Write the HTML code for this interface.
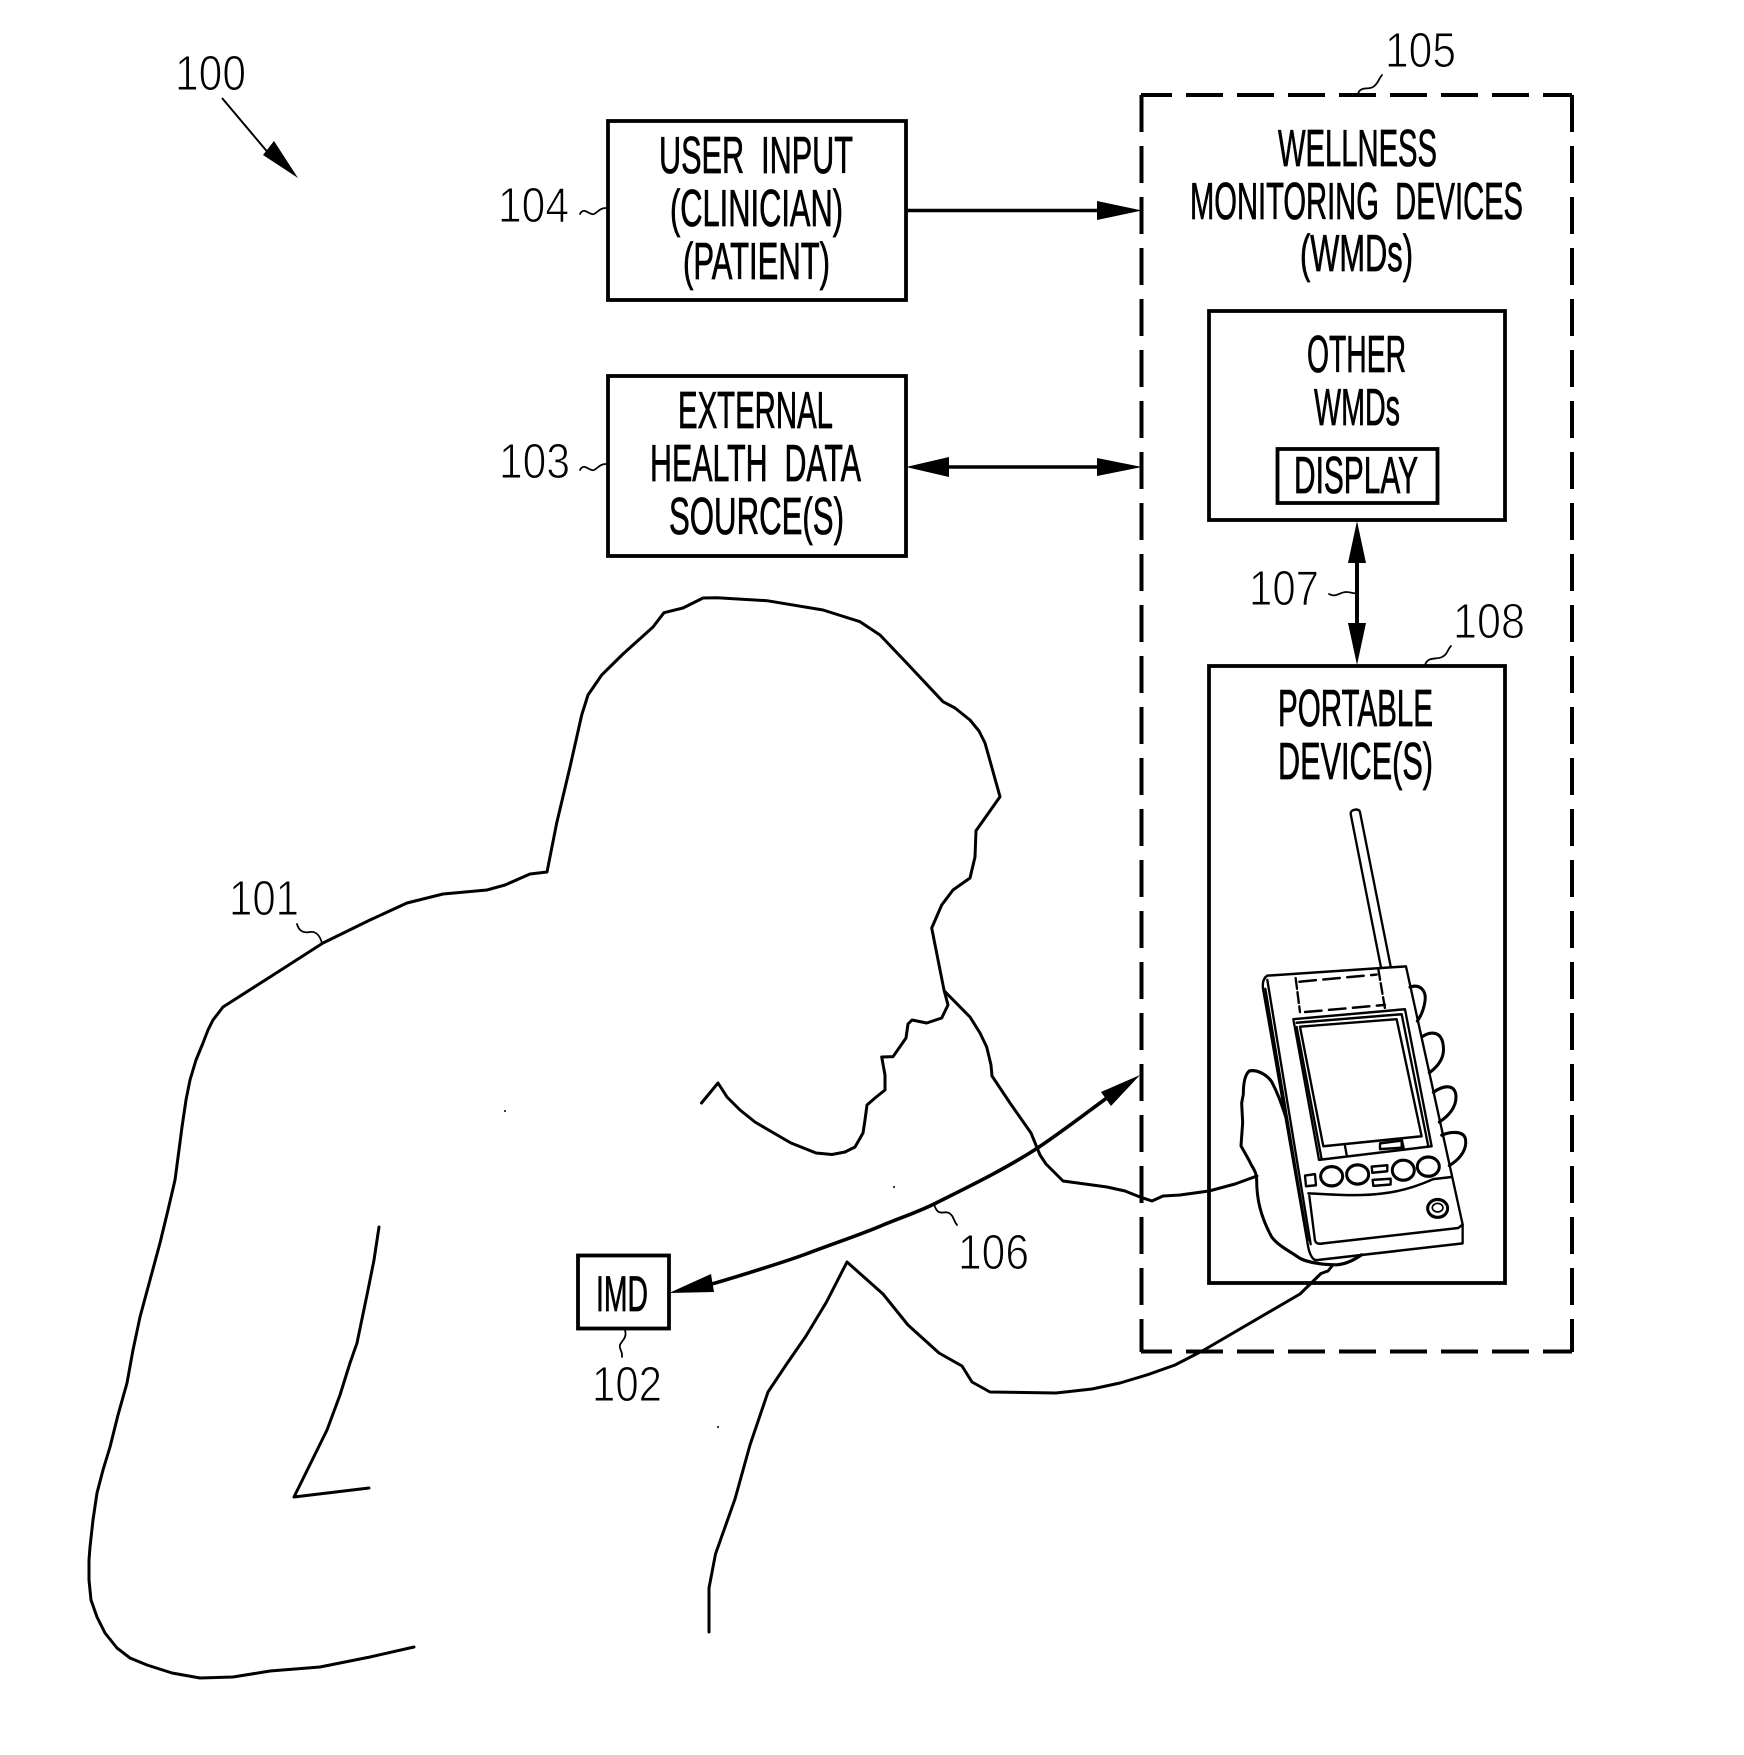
<!DOCTYPE html>
<html><head><meta charset="utf-8"><style>
html,body{margin:0;padding:0;background:#fff;width:1744px;height:1755px;overflow:hidden}
svg{display:block}
text{font-family:"Liberation Sans",sans-serif;fill:#000}
.m{font-size:52px;stroke:#000;stroke-width:.8px}
.n{font-size:49px;stroke:#fff;stroke-width:1.1px;paint-order:fill}
.b{fill:#fff;stroke:#000;stroke-width:3.8}
.l{fill:none;stroke:#000;stroke-width:3;stroke-linejoin:round;stroke-linecap:round}
.s{fill:none;stroke:#000;stroke-width:1.8;stroke-linecap:round}
.d{fill:none;stroke:#000;stroke-width:4;stroke-dasharray:37 14}
</style></head><body>
<svg width="1744" height="1755" viewBox="0 0 1744 1755" xmlns="http://www.w3.org/2000/svg">
<rect width="1744" height="1755" fill="#fff"/>

<!-- dashed box -->
<path class="d" d="M1141 95H1572" stroke-dashoffset="6"/>
<path class="d" d="M1141 1351.5H1572" stroke-dashoffset="6"/>
<path class="d" d="M1141.5 95V1352"/>
<path class="d" d="M1572 95V1352"/>

<!-- boxes -->
<rect class="b" x="608" y="121" width="298" height="179"/>
<rect class="b" x="608" y="376" width="298" height="180"/>
<rect class="b" x="1209" y="311" width="296" height="209"/>
<rect class="b" x="1277.5" y="449" width="160" height="54"/>
<rect class="b" x="1209" y="666" width="296" height="617"/>
<rect class="b" x="578" y="1255.5" width="91" height="73"/>

<!-- box text -->
<text class="m" x="659" y="173" textLength="194" lengthAdjust="spacingAndGlyphs">USER&#160;&#160;INPUT</text>
<text class="m" x="670" y="226" textLength="173" lengthAdjust="spacingAndGlyphs">(CLINICIAN)</text>
<text class="m" x="683" y="279" textLength="147" lengthAdjust="spacingAndGlyphs">(PATIENT)</text>
<text class="m" x="678" y="428" textLength="155" lengthAdjust="spacingAndGlyphs">EXTERNAL</text>
<text class="m" x="650" y="481" textLength="211" lengthAdjust="spacingAndGlyphs">HEALTH&#160;&#160;DATA</text>
<text class="m" x="669" y="534" textLength="175" lengthAdjust="spacingAndGlyphs">SOURCE(S)</text>
<text class="m" x="1278" y="166" textLength="159" lengthAdjust="spacingAndGlyphs">WELLNESS</text>
<text class="m" x="1190" y="219" textLength="333" lengthAdjust="spacingAndGlyphs">MONITORING&#160;&#160;DEVICES</text>
<text class="m" x="1300" y="271" textLength="113" lengthAdjust="spacingAndGlyphs">(WMDs)</text>
<text class="m" x="1307" y="372" textLength="99" lengthAdjust="spacingAndGlyphs">OTHER</text>
<text class="m" x="1314" y="425" textLength="86" lengthAdjust="spacingAndGlyphs">WMDs</text>
<text class="m" x="1294" y="493" textLength="124" lengthAdjust="spacingAndGlyphs">DISPLAY</text>
<text class="m" x="1278" y="726" textLength="155" lengthAdjust="spacingAndGlyphs">PORTABLE</text>
<text class="m" x="1278" y="779" textLength="155" lengthAdjust="spacingAndGlyphs">DEVICE(S)</text>
<text class="m" x="596" y="1311" textLength="52" lengthAdjust="spacingAndGlyphs" style="font-size:50px">IMD</text>

<!-- number labels -->
<text class="n" x="175" y="90" textLength="71" lengthAdjust="spacingAndGlyphs">100</text>
<text class="n" x="498" y="222" textLength="71" lengthAdjust="spacingAndGlyphs">104</text>
<text class="n" x="499" y="478" textLength="71" lengthAdjust="spacingAndGlyphs">103</text>
<text class="n" x="1385" y="67" textLength="71" lengthAdjust="spacingAndGlyphs">105</text>
<text class="n" x="1249" y="605" textLength="70" lengthAdjust="spacingAndGlyphs">107</text>
<text class="n" x="1453" y="638" textLength="72" lengthAdjust="spacingAndGlyphs">108</text>
<text class="n" x="229" y="915" textLength="70" lengthAdjust="spacingAndGlyphs">101</text>
<text class="n" x="958" y="1269" textLength="71" lengthAdjust="spacingAndGlyphs">106</text>
<text class="n" x="592" y="1401" textLength="70" lengthAdjust="spacingAndGlyphs">102</text>

<!-- squiggles -->
<path class="s" d="M580 214C584 206 590 216 594 214S600 208 606 208"/>
<path class="s" d="M580 470C584 462 590 472 594 470S600 464 606 464"/>
<path class="s" d="M1358 94C1360 86 1368 90 1373 87S1378 80 1382 75"/>
<path class="s" d="M1329 594C1336 598 1340 592 1346 592S1352 594 1357 593"/>
<path class="s" d="M1425 665C1428 656 1436 660 1442 657S1447 650 1451 646"/>
<path class="s" d="M934 1204C938 1218 944 1210 949 1213S953 1220 957 1225"/>
<path class="s" d="M625 1330C628 1340 618 1342 620 1348S622 1352 622 1357"/>
<path class="s" d="M297 924C299 932 305 933 310 932C316 931 320 936 322 943"/>

<!-- arrows -->
<path d="M907 210.5H1105" stroke="#000" stroke-width="3.6" fill="none"/>
<polygon points="1142,210.5 1097,201 1097,220"/>
<path d="M945 467H1105" stroke="#000" stroke-width="3.6" fill="none"/>
<polygon points="1142,467 1097,458 1097,476"/>
<polygon points="906,467 949,457 949,477"/>
<path d="M1357 555V630" stroke="#000" stroke-width="4" fill="none"/>
<polygon points="1357,521 1348,563 1366,563"/>
<polygon points="1357,665 1348,623 1366,623"/>
<path d="M222 98L270 155" fill="none" stroke="#000" stroke-width="2"/>
<polygon points="298,178 263,155 274,141"/>
<path d="M705 1286C740 1276 790 1260 806 1254C835 1243 865 1233 883 1225C900 1218 918 1212 934 1204C970 1186 1005 1169 1036 1149C1062 1132 1090 1110 1115 1092" fill="none" stroke="#000" stroke-width="3.6"/>
<polygon points="669,1293 711,1274 714,1292"/>
<polygon points="1140,1075 1101,1092 1111,1106"/>

<!-- person -->
<path class="l" d="M414 1647L370 1657L320 1667L270 1671L233 1677L200 1678L172 1673L147 1665L130 1658L117 1648L105 1633L97 1617L91 1600L89 1580L89 1560L90 1547L93 1520L97 1493L103 1470L110 1447L118 1415L127 1383L133 1350L140 1317L150 1280L160 1243L168 1210L175 1180L179 1150L182 1127L186 1100L190 1080L196 1060L203 1043L208 1030L213 1020L223 1007L270 977L323 943L370 920L407 903L443 894L487 890L505 885L530 874L547 872L556.7 823L570 767L581.7 715L588 695L601.7 675L623 654L653 627L664 612.7L683 608L703 598L717 597.7L767 600.7L823 610L860 621.7L880 635L906.7 663L943 701.7L955 708L970 720L979 731L985 743L992 768L1000 796.7L976 830.7L975 857L970 878L953 890L941.7 905L931.7 928L944 990L948 1005L941.7 1018L926.7 1023L912 1020L908 1024L906 1038L893 1056.7L881.7 1057L885 1075L885 1090L875 1098L867 1105L865 1120L863 1133L855 1147L845 1152L832 1154.5L816 1153L791 1143L772 1132L755 1122L740 1110L727 1097L718 1083L701.5 1103"/>
<path class="l" d="M945 991.7L970 1017L980 1033L986.7 1047L991 1065L992 1076L1010 1103L1031 1133L1040 1155L1046 1164L1063 1181L1107 1187L1125 1191L1140 1197L1152 1201L1163 1196L1180 1195L1209 1191L1235 1184L1257 1176"/>
<path class="l" d="M709 1632L709 1588L715.5 1554L735 1499L750 1445L768 1392L786 1365L806 1336L826.5 1302L847 1262L865 1278L883 1294L908 1325L939 1353L962 1366L972 1382L990 1392L1056 1393L1092 1389L1120 1383L1148 1374.6L1175 1365L1204 1350L1300 1294L1321 1273.5L1328 1271L1332 1266"/>
<path class="l" d="M379 1227L374 1260L368 1290L357 1343L350 1363L340 1395L327 1430L294 1497L369 1488"/>
<circle cx="505" cy="1111" r="1"/><circle cx="894" cy="1187" r="1"/><circle cx="718" cy="1427" r="1"/>

<!-- device (coordinates in zoomed space) -->
<g transform="translate(1180,780) scale(.3333,.357)" fill="none" stroke="#000" stroke-width="7" stroke-linejoin="round" stroke-linecap="round">
<path d="M603 525L512 95C510 82 538 78 540 90L632 522"/>
<path d="M262 548L678 522L848 1245V1298L410 1345C398 1345 390 1330 385 1310L250 590C246 570 250 555 262 548Z" fill="#fff"/>
<path d="M262 560L392 1300M256 585L383 1290"/>
<path d="M358 565L590 545M375 650L615 630" stroke-dasharray="50 22"/>
<path d="M347 555L360 650M595 530L615 640" stroke-dasharray="30 10"/>
<path d="M340 670L675 642L755 1026L417 1064Z"/>
<path d="M350 692L425 1062M350 680L665 656L745 1026M360 691L650 670L725 998L430 1026Z"/>
<path d="M495 1025L500 1050M665 1005L672 1035M600 1018L665 1010V1030L600 1034Z"/>
<ellipse cx="455" cy="1110" rx="33" ry="27" stroke-width="9"/>
<ellipse cx="533" cy="1105" rx="33" ry="27" stroke-width="9"/>
<ellipse cx="670" cy="1093" rx="33" ry="28" stroke-width="9"/>
<ellipse cx="745" cy="1083" rx="33" ry="27" stroke-width="9"/>
<path d="M575 1083L622 1079V1096L577 1100ZM578 1120L632 1117V1133L580 1137ZM375 1108L405 1104L408 1135L378 1138Z"/>
<path d="M385 1158C450 1160 530 1168 610 1158C680 1150 730 1130 760 1118L815 1112"/>
<path d="M388 1165L405 1290C408 1300 420 1300 430 1298L835 1255L848 1245"/>
<ellipse cx="773" cy="1200" rx="30" ry="25" stroke-width="9"/>
<ellipse cx="773" cy="1198" rx="16" ry="12" stroke-width="5"/>
<g stroke-width="9">
<path d="M690 580C720 570 740 590 735 620C730 650 720 665 712 675"/>
<path d="M728 718C750 705 785 700 790 745C795 780 770 805 748 820"/>
<path d="M760 875C790 855 825 850 828 885C830 920 800 945 778 958"/>
<path d="M785 995C810 985 855 980 857 1010C860 1040 835 1065 808 1080"/>
<path d="M318 945C305 910 295 880 275 845C260 825 230 810 208 815C195 825 190 850 190 880L185 905L188 960L183 1025C195 1045 205 1060 215 1080C225 1095 230 1105 230 1120C230 1170 240 1220 275 1280C295 1305 330 1320 360 1340C385 1352 430 1358 470 1358C500 1356 520 1345 545 1330"/>
</g>
</g>
</svg>
</body></html>
